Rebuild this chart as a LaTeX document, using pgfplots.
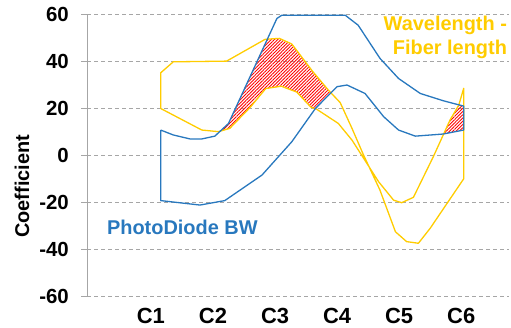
\documentclass[border=0pt]{standalone}
\usepackage{pgfplots}
\pgfplotsset{compat=1.18}
\usepackage{fontspec}
\setmainfont{Liberation Sans}
\usetikzlibrary{patterns.meta}
\definecolor{pdblue}{HTML}{2878BE}
\definecolor{wlyellow}{HTML}{FFCC00}
\definecolor{gridgray}{HTML}{A6A6A6}

\begin{document}
\begin{tikzpicture}[x=1bp,y=1bp]
\path[use as bounding box, clip] (0,0) rectangle (511,327);
\begin{axis}[
    at={(87bp,31bp)}, anchor=south west,
    width=422bp, height=281.3bp, scale only axis,
    xmin=-0.03, xmax=6.77, ymin=-60, ymax=60,
    separate axis lines,
    axis x line*=bottom, axis y line*=left,
    x axis line style={draw=none},
    y axis line style={draw=gridgray, line width=1bp},
    xtick={1,2,3,4,5,6},
    xticklabels={C1,C2,C3,C4,C5,C6},
    ytick={-60,-40,-20,0,20,40,60},
    yticklabels={-60,-40,-20,0,20,40,60},
    xtick style={draw=none},
    ytick style={draw=gridgray, line width=1bp},
    tick align=outside, major tick length=6bp,
    ymajorgrids,
    grid style={gridgray, line width=0.9bp, dash pattern=on 4bp off 3bp},
    yticklabel style={font=\fontsize{20.5}{24}\selectfont\bfseries, inner sep=0pt, xshift=-12bp},
    xticklabel style={font=\fontsize{22}{26}\selectfont\bfseries, inner sep=0pt, yshift=-6bp},
    ylabel={Coefficient},
    ylabel style={font=\fontsize{20}{24}\selectfont\bfseries, at={(axis description cs:-0.154,0.39)}, anchor=center, rotate=0},
    clip=false,
  ]
  % hatched overlap of the two bands
  \addplot[draw=none, pattern={Lines[angle=45, distance=2.3bp, line width=0.9bp]}, pattern color=red]
    coordinates {(2.115,10.3) (2.25,13.6) (2.876,49.6) (3.07,49.9) (3.27,47.5) (3.6,36) (3.86,27.8)
      (3.90,26.7) (3.647,19.9) (3.58,20.5) (3.35,27) (3.1,29.5) (2.85,28.5) (2.6,20.5) (2.27,11.5)} -- cycle;
  \addplot[draw=none, pattern={Lines[angle=45, distance=2.3bp, line width=0.9bp]}, pattern color=red]
    coordinates {(5.717,9.13) (5.82,15.1) (5.962,21.55) (6.04,21.0) (6.04,10.8)} -- cycle;

  % Wavelength - Fiber length band
  \addplot[wlyellow, line width=1.3bp, line join=round, mark=none] coordinates {
    (1.157,20) (1.82,10.8) (2.09,10.1) (2.27,11.5) (2.6,20.5) (2.85,28.5) (3.1,29.5) (3.35,27)
    (3.58,20.5) (3.67,19.7) (4.02,13.6) (4.24,6.5) (4.67,-11.3) (4.91,-19.1) (5.04,-20.2)
    (5.23,-17.9) (5.55,-0.6) (5.82,15.1) (5.96,21.4) (6.04,28.6) (6.04,-10.0) (5.5,-31.1)
    (5.31,-37.5) (5.12,-36.8) (4.94,-32.6) (4.69,-14.8) (4.42,0.5) (4.24,11.5) (4.05,22.5)
    (3.86,27.8) (3.6,36) (3.27,47.5) (3.07,49.9) (2.84,49.5) (2.22,40.2) (1.36,39.9)
    (1.157,35.2) (1.157,20)};

  % PhotoDiode BW band
  \addplot[pdblue, line width=1.3bp, line join=round, mark=none] coordinates {
    (1.157,10.8) (1.36,8.7) (1.63,7.0) (1.82,7.0) (2.03,8.2) (2.25,13.6) (3.03,58.4) (3.11,59.8)
    (4.13,59.8) (4.34,55.5) (4.69,41.4) (4.99,32.8) (5.34,26.4) (5.71,23.3) (6.04,21.0)
    (6.04,10.8) (5.71,9.1) (5.26,8.2) (4.99,10.8) (4.75,16.5) (4.45,26.4) (4.16,30.0) (4.0,29.3)
    (3.65,20.0) (3.27,5.8) (2.79,-8.4) (2.19,-19.3) (1.79,-21.2) (1.157,-19.3) (1.157,10.8)};

  \node[pdblue, anchor=west, inner sep=0pt, font=\fontsize{20}{24}\selectfont\bfseries]
    at (axis cs:0.29,-30.6) {PhotoDiode BW};
  \node[wlyellow, anchor=east, inner sep=0pt, font=\fontsize{20}{24}\selectfont\bfseries]
    at (axis cs:6.74,55.5) {Wavelength -};
  \node[wlyellow, anchor=east, inner sep=0pt, font=\fontsize{20}{24}\selectfont\bfseries]
    at (axis cs:6.74,45.4) {Fiber length};
\end{axis}
\end{tikzpicture}
\end{document}
